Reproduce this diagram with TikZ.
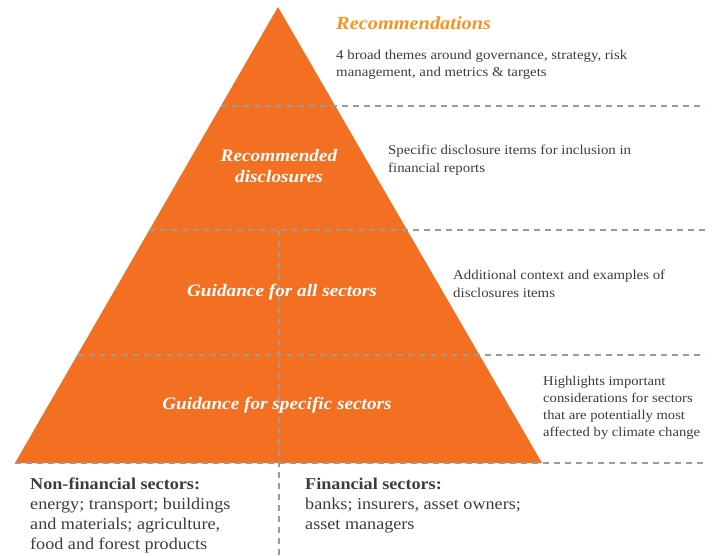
\documentclass[tikz,border=0pt]{standalone}
\usepackage{fontspec}
\setmainfont{Liberation Serif}[FakeStretch=1.1]
\definecolor{pyr}{HTML}{F36F21}
\definecolor{ttl}{HTML}{F7941D}
\definecolor{dsh}{HTML}{A09A96}
\definecolor{txt}{HTML}{3C3C3C}
\begin{document}
\begin{tikzpicture}[x=1pt,y=-1pt,
  dl/.style={draw=dsh,line width=1.2pt,dash pattern=on 6pt off 5pt},
  lbl/.style={text=white,font=\bfseries\itshape\fontsize{17.5}{21}\selectfont,align=center,inner sep=0pt},
  desc/.style={text=txt,font=\fontsize{13.5}{17.3}\selectfont,align=left,anchor=north west,inner sep=0pt},
  sect/.style={text=txt,font=\fontsize{16.5}{20}\selectfont,align=left,anchor=north west,inner sep=0pt}]
\useasboundingbox (0,0) rectangle (713,555);
\coordinate (apex) at (278,7);
\coordinate (bl) at (15,463);
\coordinate (br) at (542,463);
\fill[pyr] (apex) -- (br) -- (bl) -- cycle;
% dashed lines
\coordinate (d1l) at (221,106); \coordinate (d1r) at (705,106);
\coordinate (d2l) at (149,230); \coordinate (d2r) at (705,230);
\coordinate (d3l) at (78,355); \coordinate (d3r) at (705,355);
\coordinate (d4l) at (15,463); \coordinate (d4r) at (705,463);
\coordinate (vt) at (279,230); \coordinate (vb) at (279,555);
\draw[dl] (d1l) -- (d1r);
\draw[dl] (d2l) -- (d2r);
\draw[dl] (d3l) -- (d3r);
\draw[dl] (d4l) -- (d4r);
\draw[dl] (vt) -- (vb);
% labels
\node[lbl] (rd) at (279,166) {Recommended\\disclosures};
\node[lbl] (ga) at (282,292) {Guidance for all sectors};
\node[lbl] (gs) at (277,405) {Guidance for specific sectors};
% right descriptions
\node[text=ttl,font=\bfseries\itshape\fontsize{18.5}{22}\selectfont,anchor=west,inner sep=0pt] (rec) at (336,23) {Recommendations};
\node[desc] (d1) at (336,50) {4 broad themes around governance, strategy, risk\\management, and metrics \& targets};
\node[desc] (d2) at (388,145) {Specific disclosure items for inclusion in\\financial reports};
\node[desc] (d3) at (453,270) {Additional context and examples of\\disclosures items};
\node[desc,font=\fontsize{13.3}{17}\selectfont] (d4) at (543,376) {Highlights important\\considerations for sectors\\that are potentially most\\affected by climate change};
% bottom
\node[sect] (nf) at (30,478) {\textbf{Non-financial sectors:}\\energy; transport; buildings\\and materials; agriculture,\\food and forest products};
\node[sect] (fs) at (305,478) {\textbf{Financial sectors:}\\banks; insurers, asset owners;\\asset managers};
\end{tikzpicture}
\end{document}
